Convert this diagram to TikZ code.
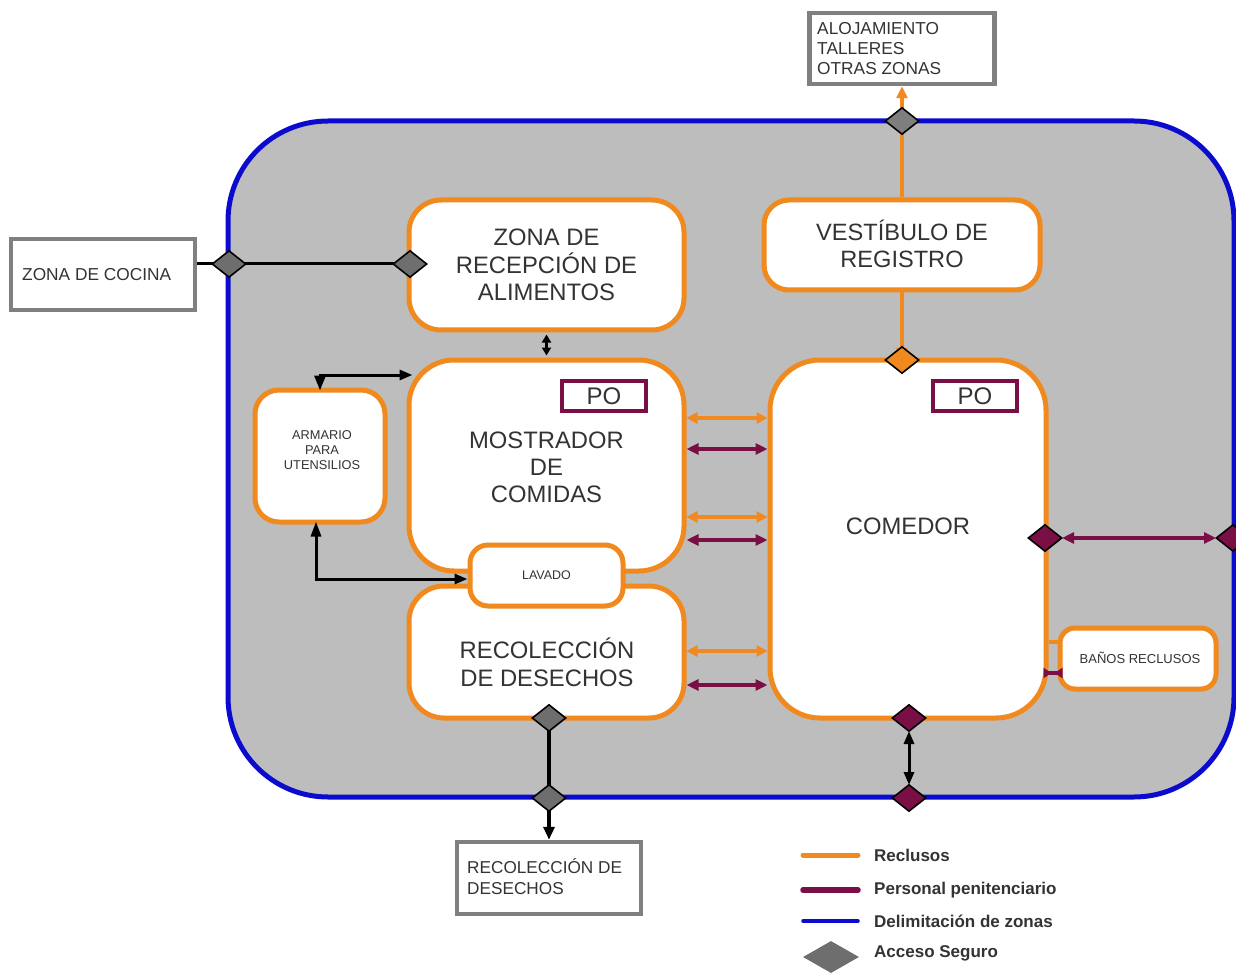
\documentclass[tikz,border=0pt]{standalone}
\usepackage{fontspec}
\setmainfont{Liberation Sans}
\usetikzlibrary{shapes.geometric,arrows.meta,calc}
\definecolor{naranja}{HTML}{F08A1E}
\definecolor{vino}{HTML}{7A0F45}
\definecolor{azul}{HTML}{0B0BD0}
\definecolor{fondo}{HTML}{BDBDBD}
\definecolor{caja}{HTML}{808080}
\definecolor{texto}{HTML}{333333}
\definecolor{acceso}{HTML}{6E6E6E}
\tikzset{
  x=1pt,y=-1pt,
  room/.style={draw=naranja,line width=5pt,fill=white,rounded corners=#1,inner sep=0pt,text=texto,align=center},
  ext/.style={draw=caja,line width=4.5pt,fill=white,inner sep=0pt,text=texto,align=left},
  gate/.style={diamond,draw=black,line width=1.6pt,minimum width=34pt,minimum height=27pt,inner sep=0pt,fill=#1},
  lbl/.style={inner sep=0pt,text=texto},
  legendlbl/.style={inner sep=0pt,anchor=west,font=\fontsize{17}{19}\selectfont\bfseries,text=black!80},
  orangeline/.style={draw=naranja,line width=3.5pt,{Triangle[length=11pt,width=11pt]}-{Triangle[length=11pt,width=11pt]}},
  orangeone/.style={draw=naranja,line width=3.5pt,-{Triangle[length=12pt,width=11pt]}},
  wine/.style={draw=vino,line width=3.5pt,{Triangle[length=12pt,width=11pt]}-{Triangle[length=12pt,width=11pt]}},
  blk/.style={draw=black,line width=3pt,{Triangle[length=13pt,width=10pt]}-{Triangle[length=13pt,width=10pt]}},
  blkplain/.style={draw=black,line width=3pt},
  blkone/.style={draw=black,line width=3.5pt,-{Triangle[length=13pt,width=11pt]}},
  potag/.style={draw=vino,line width=4.5pt,fill=white,minimum width=84pt,minimum height=30pt,inner sep=0pt,text=texto,font=\fontsize{24}{27}\selectfont},
}
\begin{document}
\begin{tikzpicture}
\useasboundingbox (0,0) rectangle (1236,973);
\begin{scope}
\clip (0,0) rectangle (1236,973);
\node[draw=azul,line width=5pt,fill=fondo,rounded corners=100pt,minimum width=1006pt,minimum height=676pt,inner sep=0pt] (zona) at (731,459) {};
\end{scope}
% external boxes
\node[ext,minimum width=185pt,minimum height=71pt] (aloj) at (902,48.5) {};
\node[lbl,anchor=north west,align=left,font=\fontsize{17.3}{19.7}\selectfont] (alojt) at (817,22.5) {ALOJAMIENTO\\TALLERES\\OTRAS ZONAS};
\node[ext,minimum width=184pt,minimum height=71pt] (cocina) at (103,274.5) {};
\node[lbl,anchor=west,font=\fontsize{17.3}{20}\selectfont] (cocinat) at (22,275) {ZONA DE COCINA};
\node[ext,minimum width=184pt,minimum height=72pt] (desout) at (549,878) {};
\node[lbl,anchor=north west,align=left,font=\fontsize{17.2}{21}\selectfont] (desoutt) at (467,858) {RECOLECCIÓN DE\\DESECHOS};
% rooms
\node[room=32pt,minimum width=275pt,minimum height=130pt,font=\fontsize{23.8}{27.5}\selectfont] (recep) at (546.5,265) {ZONA DE\\RECEPCIÓN DE\\ALIMENTOS};
\node[room=25pt,minimum width=276pt,minimum height=90pt] (vest) at (902,245) {};
\node[lbl,align=center,font=\fontsize{23.6}{27}\selectfont] (vestt) at (902,244) {VESTÍBULO DE\\REGISTRO};
\node[room=45pt,minimum width=275pt,minimum height=211pt] (most) at (546.5,465.5) {};
\node[lbl,align=center,font=\fontsize{23.8}{27}\selectfont] (mostt) at (546.5,467) {MOSTRADOR\\DE\\COMIDAS};
\node[room=35pt,minimum width=275pt,minimum height=132pt] (reco) at (546.5,652) {};
\node[lbl,align=center,font=\fontsize{23.8}{28}\selectfont] (recot) at (547,662) {RECOLECCIÓN\\DE DESECHOS};
\node[room=18pt,minimum width=153pt,minimum height=61pt,font=\fontsize{12.5}{13}\selectfont] (lava) at (546.5,575.5) {LAVADO};
\node[room=50pt,minimum width=276pt,minimum height=358pt] (come) at (908,539) {};
\node[lbl,font=\fontsize{23.8}{27}\selectfont] (comet) at (908,526) {COMEDOR};
\node[room=24pt,minimum width=130pt,minimum height=132pt] (arma) at (320,456) {};
\node[lbl,align=center,font=\fontsize{12.8}{14.8}\selectfont] (armat) at (322,450) {ARMARIO\\PARA\\UTENSILIOS};
\node[room=15pt,minimum width=156pt,minimum height=61pt] (banos) at (1138,658.5) {};
\node[lbl,font=\fontsize{13}{15}\selectfont] (banost) at (1140,658) {BAÑOS RECLUSOS};
% PO
\node[potag] (po1) at (604,396) {PO};
\node[potag] (po2) at (975,396) {PO};
% gates
\coordinate (gAloj) at (902,121);
\coordinate (gComeTop) at (902,360);
\coordinate (gCoc1) at (229,264);
\coordinate (gCoc2) at (410,264);
\coordinate (gResi1) at (549,718);
\coordinate (gResi2) at (549,798);
\coordinate (gCome1) at (909,718);
\coordinate (gCome2) at (909,798);
\coordinate (gEste1) at (1045,538);
\coordinate (gEste2) at (1233,538);
% connectors
\draw[orangeone] (vest.north -| gAloj) -- (aloj.south -| gAloj);
\draw[orangeone] (vest.south -| gComeTop) -- (gComeTop);
\draw[blkplain] (cocina.east |- gCoc1) -- (gCoc2);
\draw[draw=black,line width=2.5pt,{Triangle[length=8pt,width=9pt]}-{Triangle[length=8pt,width=9pt]}] ($(recep.south)+(0,2)$) -- ($(most.north)+(0,-2)$);
\coordinate (a1) at (320,375);
\draw[blkplain,{Triangle[length=15pt,width=11pt]}-{Triangle[length=13pt,width=10pt]}] ($(arma.north -| a1)+(0,3)$) -- (a1) -- ($(most.west |- a1)+(6,0)$);
\coordinate (a2) at (316,579);
\draw[blkplain,{Triangle[length=15pt,width=10pt]}-{Triangle[length=13pt,width=10pt]}] ($(arma.south -| a2)+(0,-3)$) -- (a2) -- (lava.west |- a2);
\foreach \yy in {418,517,651} {\coordinate (row) at (0,\yy); \draw[orangeline] (most.east |- row) -- (come.west |- row);}
\foreach \yy in {449,540,685} {\coordinate (row) at (0,\yy); \draw[wine] (most.east |- row) -- (come.west |- row);}
\draw[wine] ($(gEste1)+(17,0)$) -- ($(gEste2)+(-17,0)$);
\coordinate (b1) at (0,642);
\coordinate (b2) at (0,673);
\draw[draw=naranja,line width=4pt] (come.east |- b1) -- (banos.west |- b1);
\draw[draw=vino,line width=3.5pt,{Triangle[reversed,length=8pt,width=10pt]}-{Triangle[reversed,length=8pt,width=10pt]}] ($(come.east |- b2)+(-5,0)$) -- ($(banos.west |- b2)+(5,0)$);
\draw[blkplain,line width=3.5pt] (gResi1) -- (gResi2);
\draw[blkone] (gResi2) -- (desout.north -| gResi2);
\draw[blk] ($(gCome1)+(0,13)$) -- ($(gCome2)+(0,-13)$);
\node[gate=acceso!80!fondo] (d1) at (gAloj) {};
\node[gate=naranja] (d2) at (gComeTop) {};
\node[gate=acceso] (d3) at (gCoc1) {};
\node[gate=acceso] (d4) at (gCoc2) {};
\node[gate=acceso] (d5) at (gResi1) {};
\node[gate=acceso] (d6) at (gResi2) {};
\node[gate=vino] (d7) at (gCome1) {};
\node[gate=vino] (d8) at (gCome2) {};
\node[gate=vino] (d9) at (gEste1) {};
\node[gate=vino] (d10) at (gEste2) {};
% legend
\coordinate (l1a) at (803,855); \coordinate (l1b) at (858,855);
\coordinate (l2a) at (803,890); \coordinate (l2b) at (858,890);
\coordinate (l3a) at (803,921); \coordinate (l3b) at (858,921);
\draw[naranja,line width=5pt,line cap=round] (l1a) -- (l1b);
\draw[vino,line width=5.5pt,line cap=round] (l2a) -- (l2b);
\draw[azul,line width=3.5pt,line cap=round] (l3a) -- (l3b);
\node[diamond,fill=acceso,minimum width=56pt,minimum height=32pt,inner sep=0pt] (l4) at (831,957) {};
\node[legendlbl] (t1) at (874,855) {Reclusos};
\node[legendlbl] (t2) at (874,890) {Personal penitenciario};
\node[legendlbl] (t3) at (874,921) {Delimitación de zonas};
\node[legendlbl] (t4) at (874,953.5) {Acceso Seguro};
\end{tikzpicture}
\end{document}
